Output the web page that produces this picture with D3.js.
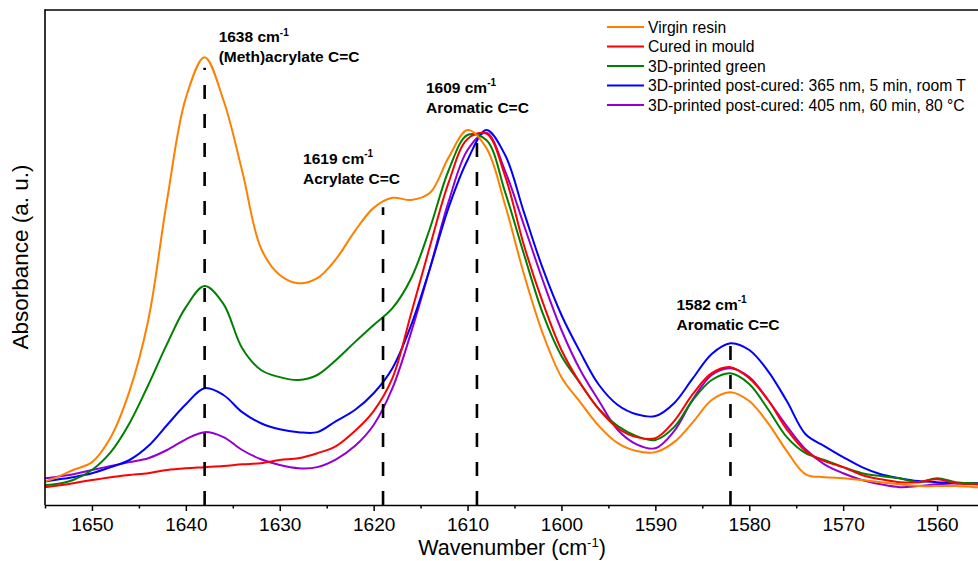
<!DOCTYPE html>
<html>
<head>
<meta charset="utf-8">
<script src="https://cdn.jsdelivr.net/npm/d3@7"></script>
<style>
  body { margin: 0; background: #fff; }
  svg { display: block; }
  text { font-family: "Liberation Sans", Arial, Helvetica, sans-serif; fill: #000; }
</style>
</head>
<body>
<svg id="chart" width="978" height="561"></svg>
<script>
// FTIR spectra, 1656–1554 cm-1, absorbance in arbitrary units
const wavenumbers = [1656, 1654, 1652, 1650, 1648, 1646, 1644, 1642, 1640, 1638,
  1636, 1634, 1632, 1630, 1628, 1626, 1624, 1622, 1620, 1618,
  1616, 1614, 1612, 1610, 1608, 1606, 1604, 1602, 1600, 1598,
  1596, 1594, 1592, 1590, 1588, 1586, 1584, 1582, 1580, 1578,
  1576, 1574, 1572, 1570, 1568, 1566, 1564, 1562, 1560, 1558,
  1556, 1554];

const virginResin = [0.008, 0.025, 0.048, 0.070, 0.140, 0.269, 0.468, 0.804, 1.090, 1.204,
  1.084, 0.885, 0.669, 0.594, 0.571, 0.585, 0.639, 0.717, 0.782, 0.810,
  0.804, 0.824, 0.924, 1.000, 0.950, 0.790, 0.597, 0.431, 0.308, 0.238,
  0.171, 0.123, 0.101, 0.098, 0.126, 0.182, 0.244, 0.266, 0.241, 0.179,
  0.101, 0.036, 0.028, 0.025, 0.020, 0.014, 0.008, 0.003, 0.003, 0.003,
  0.000, 0.000];

const curedInMould = [-0.003, 0.003, 0.011, 0.020, 0.028, 0.034, 0.039, 0.048, 0.053, 0.056,
  0.059, 0.064, 0.067, 0.076, 0.081, 0.095, 0.115, 0.157, 0.213, 0.305,
  0.487, 0.675, 0.854, 0.975, 0.990, 0.871, 0.678, 0.518, 0.384, 0.291,
  0.218, 0.165, 0.140, 0.137, 0.185, 0.261, 0.319, 0.336, 0.305, 0.244,
  0.162, 0.101, 0.073, 0.056, 0.034, 0.022, 0.014, 0.014, 0.022, 0.011,
  0.008, 0.006];

const printedGreen = [0.006, 0.008, 0.020, 0.048, 0.098, 0.179, 0.286, 0.401, 0.504, 0.563,
  0.513, 0.389, 0.328, 0.308, 0.300, 0.314, 0.356, 0.406, 0.454, 0.501,
  0.585, 0.725, 0.888, 0.986, 0.972, 0.826, 0.653, 0.487, 0.367, 0.291,
  0.218, 0.171, 0.143, 0.132, 0.168, 0.244, 0.300, 0.319, 0.289, 0.218,
  0.140, 0.095, 0.076, 0.056, 0.039, 0.031, 0.025, 0.014, 0.025, 0.014,
  0.011, 0.008];

const postCured365 = [0.011, 0.020, 0.028, 0.039, 0.056, 0.076, 0.115, 0.174, 0.232, 0.277,
  0.258, 0.210, 0.179, 0.162, 0.154, 0.154, 0.185, 0.216, 0.263, 0.333,
  0.454, 0.613, 0.784, 0.916, 1.000, 0.930, 0.770, 0.613, 0.482, 0.378,
  0.286, 0.230, 0.204, 0.199, 0.235, 0.305, 0.373, 0.403, 0.384, 0.325,
  0.241, 0.148, 0.115, 0.084, 0.056, 0.036, 0.025, 0.017, 0.014, 0.011,
  0.011, 0.008];

const postCured405 = [0.022, 0.028, 0.036, 0.048, 0.059, 0.070, 0.081, 0.104, 0.134, 0.154,
  0.140, 0.104, 0.078, 0.062, 0.053, 0.056, 0.078, 0.115, 0.174, 0.277,
  0.434, 0.613, 0.801, 0.944, 0.992, 0.885, 0.734, 0.580, 0.440, 0.328,
  0.241, 0.160, 0.120, 0.109, 0.157, 0.246, 0.314, 0.333, 0.308, 0.244,
  0.171, 0.106, 0.064, 0.039, 0.020, 0.008, 0.000, 0.003, 0.008, 0.011,
  0.011, 0.011];

const seriesNames = [
  "Virgin resin",
  "Cured in mould",
  "3D-printed green",
  "3D-printed post-cured: 365 nm, 5 min, room T",
  "3D-printed post-cured: 405 nm, 60 min, 80 \u00B0C"
];
const seriesValues = [virginResin, curedInMould, printedGreen, postCured365, postCured405];
const seriesColors = ["#ff8000", "#ff0000", "#008000", "#0000ff", "#9400d3"];

// Band assignments marked with dashed guide lines
const peakWavenumbers = [1638, 1619, 1609, 1582];
const peakLineTops = [1.174, 0.784, 0.994, 0.398];
const peakNames = ["(Meth)acrylate C=C", "Acrylate C=C", "Aromatic C=C", "Aromatic C=C"];

const majorTicks = [1650, 1640, 1630, 1620, 1610, 1600, 1590, 1580, 1570, 1560];
const minorTicks = [1655, 1645, 1635, 1625, 1615, 1605, 1595, 1585, 1575, 1565, 1555];

// ---- layout ----
const plot = { left: 45, right: 984, top: 10, bottom: 505 };
const labelOffsets = [[14, -31], [-80, -49], [-51, -45], [-54, -41]]; // px from guide-line top

const svg = d3.select("#chart");

const x = d3.scaleLinear().domain([1655, 1555]).range([plot.left, plot.right]);
const y = d3.scaleLinear().domain([-0.05, 1.336]).range([plot.bottom, plot.top]);

svg.append("defs").append("clipPath").attr("id", "plot-clip")
  .append("rect")
  .attr("x", plot.left).attr("y", plot.top)
  .attr("width", plot.right - plot.left).attr("height", plot.bottom - plot.top);

// spectra (last legend entry drawn first so earlier ones sit on top)
const line = d3.line()
  .x(d => x(d[0]))
  .y(d => y(d[1]))
  .curve(d3.curveCatmullRom.alpha(0.5));

const curves = svg.append("g").attr("clip-path", "url(#plot-clip)");
d3.range(seriesValues.length).reverse().forEach(i => {
  curves.append("path")
    .datum(wavenumbers.map((w, j) => [w, seriesValues[i][j]]))
    .attr("fill", "none")
    .attr("stroke", seriesColors[i])
    .attr("stroke-width", 2)
    .attr("stroke-linejoin", "round")
    .attr("d", line);
});

// dashed guide lines, dash pattern starting at the axis
const guides = svg.append("g");
peakWavenumbers.forEach((w, i) => {
  guides.append("line")
    .attr("x1", x(w)).attr("x2", x(w))
    .attr("y1", y.range()[0]).attr("y2", y(peakLineTops[i]))
    .attr("stroke", "#000")
    .attr("stroke-width", 2.6)
    .attr("stroke-dasharray", "14,15");
});

// band labels
peakWavenumbers.forEach((w, i) => {
  const lx = x(w) + labelOffsets[i][0];
  const ly = y(peakLineTops[i]) + labelOffsets[i][1];
  const t1 = svg.append("text")
    .attr("x", lx).attr("y", ly + 5.5)
    .attr("font-size", 15.5).attr("font-weight", "bold");
  t1.append("tspan").text(w + " cm");
  t1.append("tspan").attr("font-size", 10).attr("dy", -6.5).text("-1");
  svg.append("text")
    .attr("x", lx).attr("y", ly + 25.5)
    .attr("font-size", 15.5).attr("font-weight", "bold")
    .text(peakNames[i]);
});

// frame
svg.append("line")
  .attr("x1", plot.left).attr("x2", plot.right)
  .attr("y1", plot.top).attr("y2", plot.top)
  .attr("stroke", "#000").attr("stroke-width", 1.6);
svg.append("line")
  .attr("x1", plot.left).attr("x2", plot.left)
  .attr("y1", plot.top - 0.8).attr("y2", plot.bottom)
  .attr("stroke", "#000").attr("stroke-width", 1.6);

// x axis
const minorAxis = svg.append("g")
  .attr("transform", `translate(0,${plot.bottom})`)
  .call(d3.axisBottom(x).tickValues(minorTicks).tickSize(3.5).tickSizeOuter(0).tickFormat(""));
minorAxis.select(".domain").remove();
minorAxis.selectAll(".tick line").attr("stroke-width", 1.5);

const majorAxis = svg.append("g")
  .attr("transform", `translate(0,${plot.bottom})`)
  .call(d3.axisBottom(x).tickValues(majorTicks).tickSize(6).tickSizeOuter(0).tickPadding(7)
    .tickFormat(d3.format("d")));
majorAxis.select(".domain").attr("stroke-width", 1.6);
majorAxis.selectAll(".tick line").attr("stroke-width", 1.5);
majorAxis.selectAll(".tick text")
  .attr("font-size", 19)
  .attr("font-family", "\"Liberation Sans\", Arial, sans-serif")
  .attr("fill", "#000");

// axis titles
const xt = svg.append("text")
  .attr("x", 512).attr("y", 555)
  .attr("text-anchor", "middle")
  .attr("font-size", 21.5);
xt.append("tspan").text("Wavenumber (cm");
xt.append("tspan").attr("font-size", 13).attr("dy", -8).text("-1");
xt.append("tspan").attr("dy", 8).text(")");

svg.append("text")
  .attr("transform", "translate(28,257) rotate(-90)")
  .attr("text-anchor", "middle")
  .attr("font-size", 22.5)
  .text("Absorbance (a. u.)");

// legend
const legend = svg.append("g").attr("transform", "translate(607,27)");
seriesNames.forEach((name, i) => {
  const row = legend.append("g").attr("transform", `translate(0,${i * 19.5})`);
  row.append("line")
    .attr("x1", 0).attr("x2", 37)
    .attr("stroke", seriesColors[i]).attr("stroke-width", 2);
  row.append("text")
    .attr("x", 41).attr("y", 0)
    .attr("dy", "0.35em")
    .attr("font-size", 15.7)
    .text(name);
});
</script>
</body>
</html>
